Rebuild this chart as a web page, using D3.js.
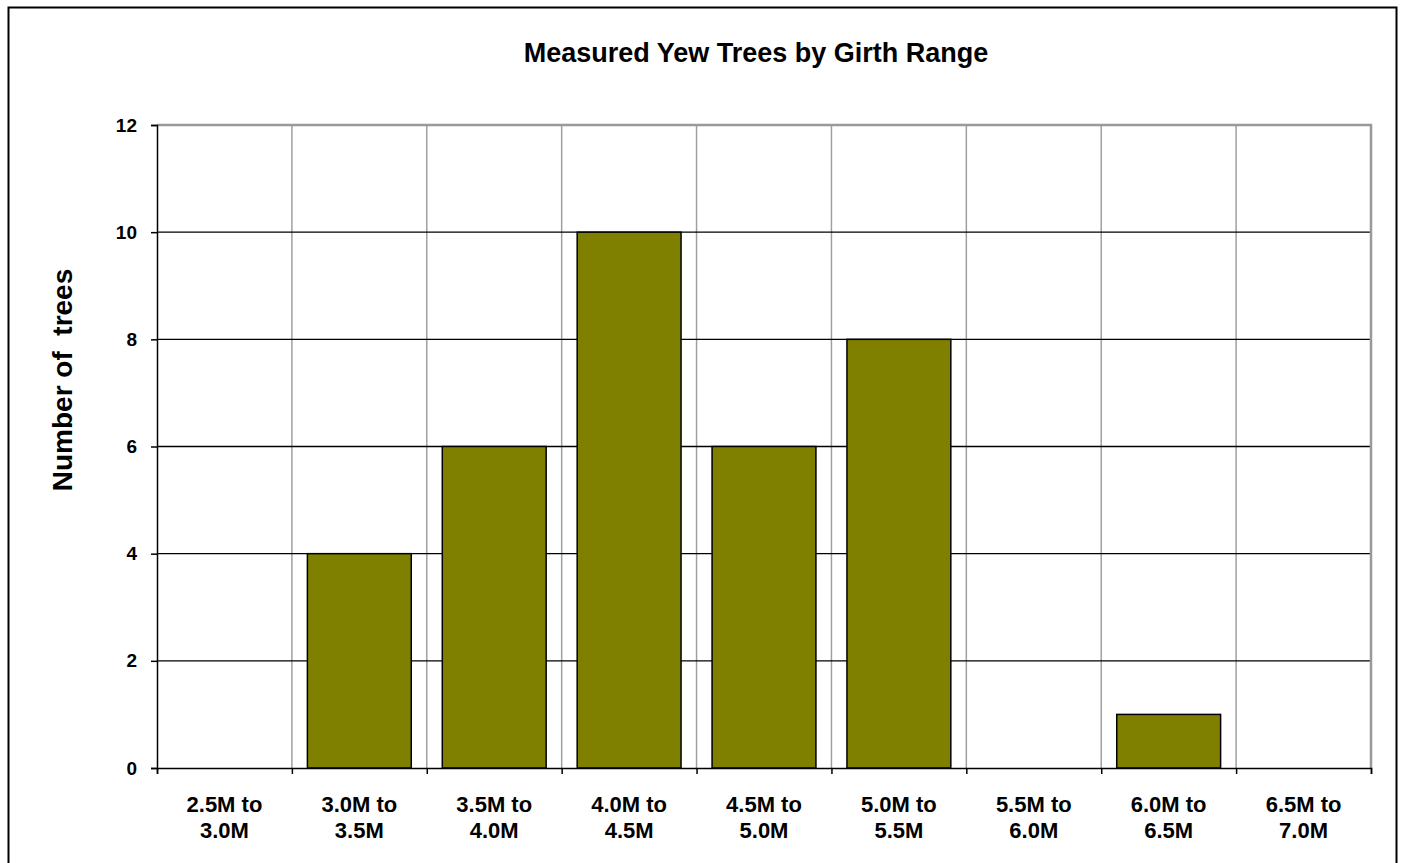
<!DOCTYPE html>
<html><head><meta charset="utf-8">
<script src="https://cdn.jsdelivr.net/npm/d3@7"></script>
<style>body{margin:0;background:#fff;font-family:"Liberation Sans",Arial,sans-serif;}</style>
</head><body>
<svg id="c" width="1403" height="863"></svg>
<script>
const categories = [["2.5M to","3.0M"],["3.0M to","3.5M"],["3.5M to","4.0M"],["4.0M to","4.5M"],["4.5M to","5.0M"],["5.0M to","5.5M"],["5.5M to","6.0M"],["6.0M to","6.5M"],["6.5M to","7.0M"]];
const values = [0,4,6,10,6,8,0,1,0];
const yTicks = [0,2,4,6,8,10,12];

const svg = d3.select("#c");
svg.append("rect").attr("x",8.5).attr("y",7.5).attr("width",1388).attr("height",870)
  .attr("fill","none").attr("stroke","#000").attr("stroke-width",2);

const L=157,R=1371,T=125,B=768;
const keys = categories.map((c,i)=>i);
const x = d3.scaleBand().domain(keys).range([L,R]).paddingInner(0).paddingOuter(0);
const y = d3.scaleLinear().domain([0,12]).range([B,T]);
const bw = x.bandwidth()*0.77;

const g = svg.append("g");
keys.slice(1).forEach(i=>{
  g.append("line").attr("x1",x(i)).attr("x2",x(i)).attr("y1",T).attr("y2",B)
   .attr("stroke","#a0a0a0").attr("stroke-width",1.5);
});
yTicks.filter(t=>t>0&&t<12).forEach(t=>{
  g.append("line").attr("x1",L).attr("x2",R).attr("y1",y(t)).attr("y2",y(t))
   .attr("stroke","#000").attr("stroke-width",1.3);
});
svg.append("path").attr("d",`M${L},${T}H${R}V${B}`).attr("fill","none")
  .attr("stroke","#999").attr("stroke-width",2.5);

svg.append("g").selectAll("rect").data(values.map((v,i)=>({v,i})).filter(d=>d.v>0)).join("rect")
  .attr("x",d=>x(d.i)+(x.bandwidth()-bw)/2).attr("width",bw)
  .attr("y",d=>y(d.v)).attr("height",d=>y(0)-y(d.v))
  .attr("fill","#808000").attr("stroke","#000").attr("stroke-width",1.5);

const ya = svg.append("g").attr("transform",`translate(${L},0)`)
  .call(d3.axisLeft(y).tickValues(yTicks).tickSize(6).tickPadding(14));
ya.select(".domain").attr("stroke","#000").attr("stroke-width",1.5);
ya.selectAll(".tick line").attr("stroke","#000").attr("stroke-width",1.5);
ya.selectAll("text").attr("font-family","Liberation Sans, Arial, sans-serif")
  .attr("font-size",19).attr("font-weight","bold").attr("fill","#000");

const xb = d3.scaleLinear().domain([0,9]).range([L,R]);
const xa = svg.append("g").attr("transform",`translate(0,${B})`)
  .call(d3.axisBottom(xb).tickValues(d3.range(0,10)).tickSize(6).tickFormat(""));
xa.select(".domain").attr("stroke","#000").attr("stroke-width",1.5);
xa.selectAll(".tick line").attr("stroke","#000").attr("stroke-width",1.5);

const lab = svg.append("g").selectAll("text").data(keys).join("text")
  .attr("x",i=>x(i)+x.bandwidth()/2).attr("y",812)
  .attr("text-anchor","middle").attr("font-size",22).attr("font-weight","bold").attr("fill","#000");
lab.append("tspan").attr("x",i=>x(i)+x.bandwidth()/2).text(i=>categories[i][0]);
lab.append("tspan").attr("x",i=>x(i)+x.bandwidth()/2).attr("dy",26).text(i=>categories[i][1]);

svg.append("text").attr("x",756).attr("y",62).attr("text-anchor","middle")
  .attr("font-size",27).attr("font-weight","bold").text("Measured Yew Trees by Girth Range");
svg.append("text").attr("transform","translate(72,380) rotate(-90)").attr("text-anchor","middle")
  .attr("font-size",28).attr("font-weight","bold").style("white-space","pre").text("Number of  trees");
</script>
</body></html>
